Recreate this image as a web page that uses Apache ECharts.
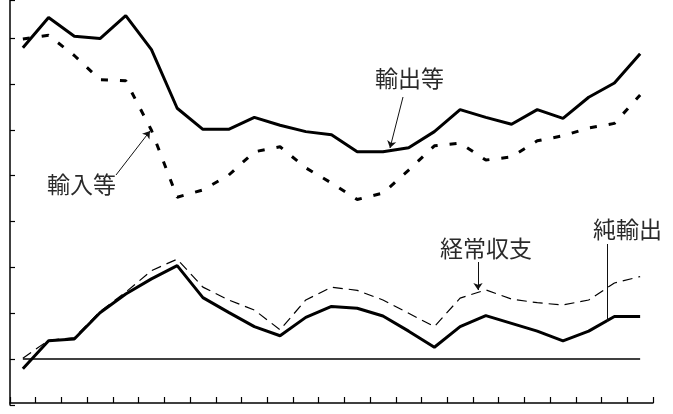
<!DOCTYPE html>
<html>
<head>
<meta charset="utf-8">
<script src="https://cdn.jsdelivr.net/npm/echarts@6/dist/echarts.min.js"></script>
<style>
  html, body { margin: 0; padding: 0; background: #fff; }
  #chart { width: 673px; height: 414px; }
</style>
</head>
<body>
<div id="chart"></div>
<script>
// 25 periods (labels are not shown on the reference)
const categories = ['1','2','3','4','5','6','7','8','9','10','11','12','13',
  '14','15','16','17','18','19','20','21','22','23','24','25'];

// 輸出等
const exportsData = [6.79, 7.45, 7.04, 6.99, 7.49, 6.75, 5.47, 5.01, 5.01, 5.27, 5.10, 4.96, 4.89,
  4.52, 4.52, 4.61, 4.96, 5.44, 5.27, 5.12, 5.44, 5.25, 5.71, 6.02, 6.66];
// 輸入等
const importsData = [6.98, 7.06, 6.62, 6.09, 6.07, 4.99, 3.53, 3.69, 4.01, 4.52, 4.63, 4.17, 3.84,
  3.48, 3.62, 4.12, 4.65, 4.71, 4.34, 4.41, 4.76, 4.87, 5.04, 5.14, 5.76];
// 純輸出
const netExports = [-0.21, 0.40, 0.44, 1.01, 1.42, 1.75, 2.04, 1.34, 1.02, 0.71, 0.51, 0.91, 1.15,
  1.11, 0.94, 0.61, 0.26, 0.71, 0.95, 0.78, 0.61, 0.40, 0.61, 0.93, 0.93];
// 経常収支
const currentAccount = [0.02, 0.41, 0.47, 1.04, 1.46, 1.93, 2.18, 1.57, 1.29, 1.07, 0.64, 1.29, 1.57,
  1.50, 1.29, 1.00, 0.71, 1.33, 1.51, 1.31, 1.23, 1.18, 1.29, 1.66, 1.80];

const yMin = -1, yMax = 7.83, yStep = 1;

let myChart = echarts.init(document.getElementById('chart'));

const arrowLine = {
  silent: true,
  symbolSize: 7,
  label: { show: false },
  emphasis: { disabled: true },
  lineStyle: { color: '#111', width: 1, type: 'solid' }
};

const option = {
  animation: false,
  grid: { left: 10, right: 20, top: 0, bottom: 9 },
  xAxis: {
    type: 'category',
    data: categories,
    boundaryGap: true,
    offset: -2,
    axisLine: { onZero: false, lineStyle: { color: '#000', width: 1.5 } },
    axisTick: { show: true, inside: true, length: 6, interval: 0, lineStyle: { color: '#000', width: 1.2 } },
    axisLabel: { show: false },
    splitLine: { show: false }
  },
  yAxis: {
    type: 'value',
    min: yMin,
    max: yMax,
    interval: yStep,
    axisLine: { show: true, lineStyle: { color: '#000', width: 1.5 } },
    axisTick: { show: true, inside: true, length: 5, lineStyle: { color: '#000', width: 1.2 } },
    axisLabel: { show: false },
    splitLine: { show: false }
  },
  series: [
    {
      name: '輸出等',
      type: 'line',
      data: exportsData,
      symbol: 'none',
      lineStyle: { color: '#000', width: 3 },
      markLine: Object.assign({}, arrowLine, {
        symbol: ['none', 'arrow'],
        data: [[{ x: 403, y: 97 }, { x: 390, y: 148 }]]
      })
    },
    {
      name: '輸入等',
      type: 'line',
      data: importsData,
      symbol: 'none',
      lineStyle: { color: '#000', width: 3, type: [7, 12] },
      markLine: Object.assign({}, arrowLine, {
        symbol: ['none', 'arrow'],
        data: [[{ x: 116, y: 175 }, { x: 150, y: 131 }]]
      })
    },
    {
      name: '純輸出',
      type: 'line',
      data: netExports,
      symbol: 'none',
      lineStyle: { color: '#000', width: 3 },
      markLine: Object.assign({}, arrowLine, {
        symbol: ['none', 'none'],
        data: [
          [{ x: 607, y: 244 }, { x: 607, y: 322 }],
          [{ coord: [categories[0], 0], symbol: 'none' }, { coord: [categories[categories.length - 1], 0], symbol: 'none',
            lineStyle: { color: '#000', width: 1.5 } }]
        ]
      })
    },
    {
      name: '経常収支',
      type: 'line',
      data: currentAccount,
      symbol: 'none',
      lineStyle: { color: '#000', width: 1.2, type: [10, 6] },
      markLine: Object.assign({}, arrowLine, {
        symbol: ['none', 'arrow'],
        data: [[{ x: 478, y: 262 }, { x: 478, y: 290 }]]
      })
    }
  ],
  graphic: [
    { type: 'text', left: 47, top: 173, style: { text: '輸入等', fill: '#2a2a2a', font: '23px "Noto Sans CJK JP"' } },
    { type: 'text', left: 375, top: 67, style: { text: '輸出等', fill: '#2a2a2a', font: '23px "Noto Sans CJK JP"' } },
    { type: 'text', left: 440, top: 237, style: { text: '経常収支', fill: '#2a2a2a', font: '23px "Noto Sans CJK JP"' } },
    { type: 'text', left: 593, top: 218, style: { text: '純輸出', fill: '#2a2a2a', font: '23px "Noto Sans CJK JP"' } }
  ]
};

myChart.setOption(option);
</script>
</body>
</html>
